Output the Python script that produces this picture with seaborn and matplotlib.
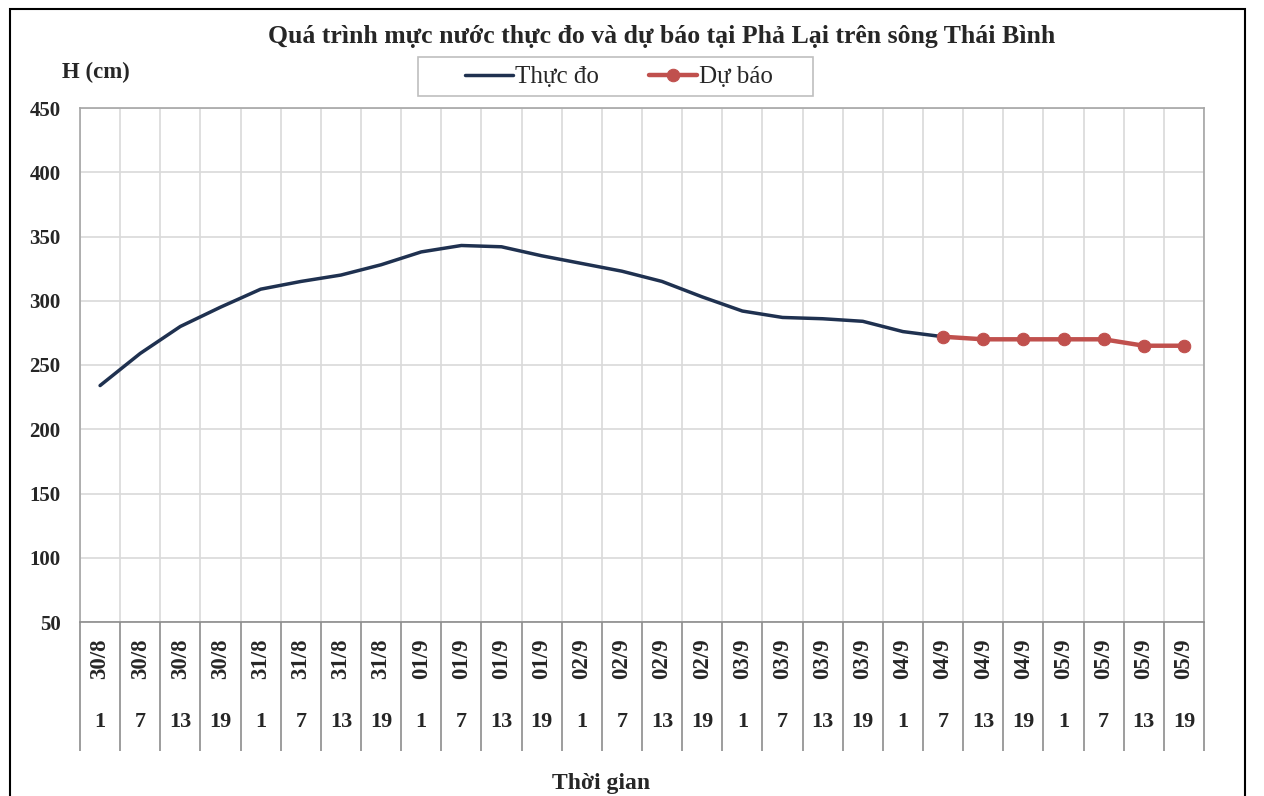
import numpy as np
import pandas as pd
import matplotlib.pyplot as plt
import seaborn as sns
from matplotlib.patches import Rectangle

sns.set_theme(style="whitegrid")
plt.rcParams['font.family'] = ['Liberation Serif', 'DejaVu Serif']

# -------------------- DATA --------------------------------
dates = ["30/8", "30/8", "30/8", "30/8", "31/8", "31/8", "31/8", "31/8",
         "01/9", "01/9", "01/9", "01/9", "02/9", "02/9", "02/9", "02/9",
         "03/9", "03/9", "03/9", "03/9", "04/9", "04/9", "04/9", "04/9",
         "05/9", "05/9", "05/9", "05/9"]
hours = ["1", "7", "13", "19", "1", "7", "13", "19",
         "1", "7", "13", "19", "1", "7", "13", "19",
         "1", "7", "13", "19", "1", "7", "13", "19",
         "1", "7", "13", "19"]
observed = [234, 259, 280, 295, 309, 315, 320, 328, 338, 343, 342, 335,
            329, 323, 315, 303, 292, 287, 286, 284, 276, 272]
forecast = [272, 270, 270, 270, 270, 265, 265]
forecast_start = 21

obs_df = pd.DataFrame({"pos": np.arange(len(observed)), "H": observed})
fc_df = pd.DataFrame({"pos": np.arange(forecast_start, forecast_start + len(forecast)),
                      "H": forecast})

navy = "#1f3150"
red = "#c0504d"

# -------------------- PLOT --------------------------------
W, H = 1264, 796
fig = plt.figure(figsize=(W / 100, H / 100), dpi=100)
ax = fig.add_axes([80 / W, 1 - 622 / H, 1124 / W, 514 / H])
ax.set_facecolor("white")

sns.lineplot(data=obs_df, x="pos", y="H", color=navy, lw=2.5, ax=ax, label="Thực đo")
sns.lineplot(data=fc_df, x="pos", y="H", color=red, lw=3.2, marker="o", markersize=9,
             markeredgecolor=red, ax=ax, label="Dự báo")

n = len(dates)
ax.set_xlim(-0.5, n - 0.5)
ax.set_ylim(50, 450)
ax.set_yticks(np.arange(50, 451, 50))
ax.set_xticks(np.arange(-0.5, n, 1))
ax.set_xticklabels([])
ax.tick_params(axis="x", length=0)
ax.tick_params(axis="y", length=0, pad=14)
for lab in ax.get_yticklabels():
    lab.set_fontweight("bold")
    lab.set_fontsize(15)
ax.grid(True, color="#d9d9d9", lw=1.2)
ax.set_xlabel("")
ax.set_ylabel("")
for s in ax.spines.values():
    s.set_visible(True)
    s.set_color("#a6a6a6")
    s.set_linewidth(1.2)
ax.spines["bottom"].set_color("#8c8c8c")

# category table below the axis
trans = ax.get_xaxis_transform()
ax.vlines(np.arange(-0.5, n, 1), -0.251, 0, transform=trans, clip_on=False,
          color="#8c8c8c", lw=1.2)
for i, (d, h) in enumerate(zip(dates, hours)):
    ax.text(i, -0.071, d, rotation=90, transform=trans, ha="center", va="center",
            fontsize=16.5, fontweight="bold")
    ax.text(i, -0.195, h, transform=trans, ha="center", va="center",
            fontsize=16, fontweight="bold")

# legend (frame drawn separately, Excel-style wide box)
handles, labels = ax.get_legend_handles_labels()
if ax.get_legend() is not None:
    ax.get_legend().remove()
leg = fig.legend(handles, labels, loc="center", bbox_to_anchor=(619 / W, 1 - 77 / H),
                 ncol=2, frameon=False, fontsize=18, handlelength=1.9,
                 columnspacing=2.0, handletextpad=0.1, borderpad=0.2)
fig.patches.append(Rectangle((418 / W, 1 - 96 / H), 395 / W, 39 / H,
                             transform=fig.transFigure, fill=False, ec="#bfbfbf", lw=1.2))

# texts
fig.text(662 / W, 1 - 36 / H, "Quá trình mực nước thực đo và dự báo tại Phả Lại trên sông Thái Bình",
         ha="center", va="center", fontsize=18.5, fontweight="bold")
fig.text(62 / W, 1 - 72 / H, "H (cm)", ha="left", va="center", fontsize=16.5, fontweight="bold")
fig.text(601 / W, 1 - 783 / H, "Thời gian", ha="center", va="center", fontsize=17, fontweight="bold")

# outer chart border
fig.patches.append(Rectangle((10 / W, -0.05), 1235 / W, 1 - 9 / H + 0.05,
                             transform=fig.transFigure, fill=False, ec="black", lw=1.5))

plt.savefig("out.png", dpi=100)
